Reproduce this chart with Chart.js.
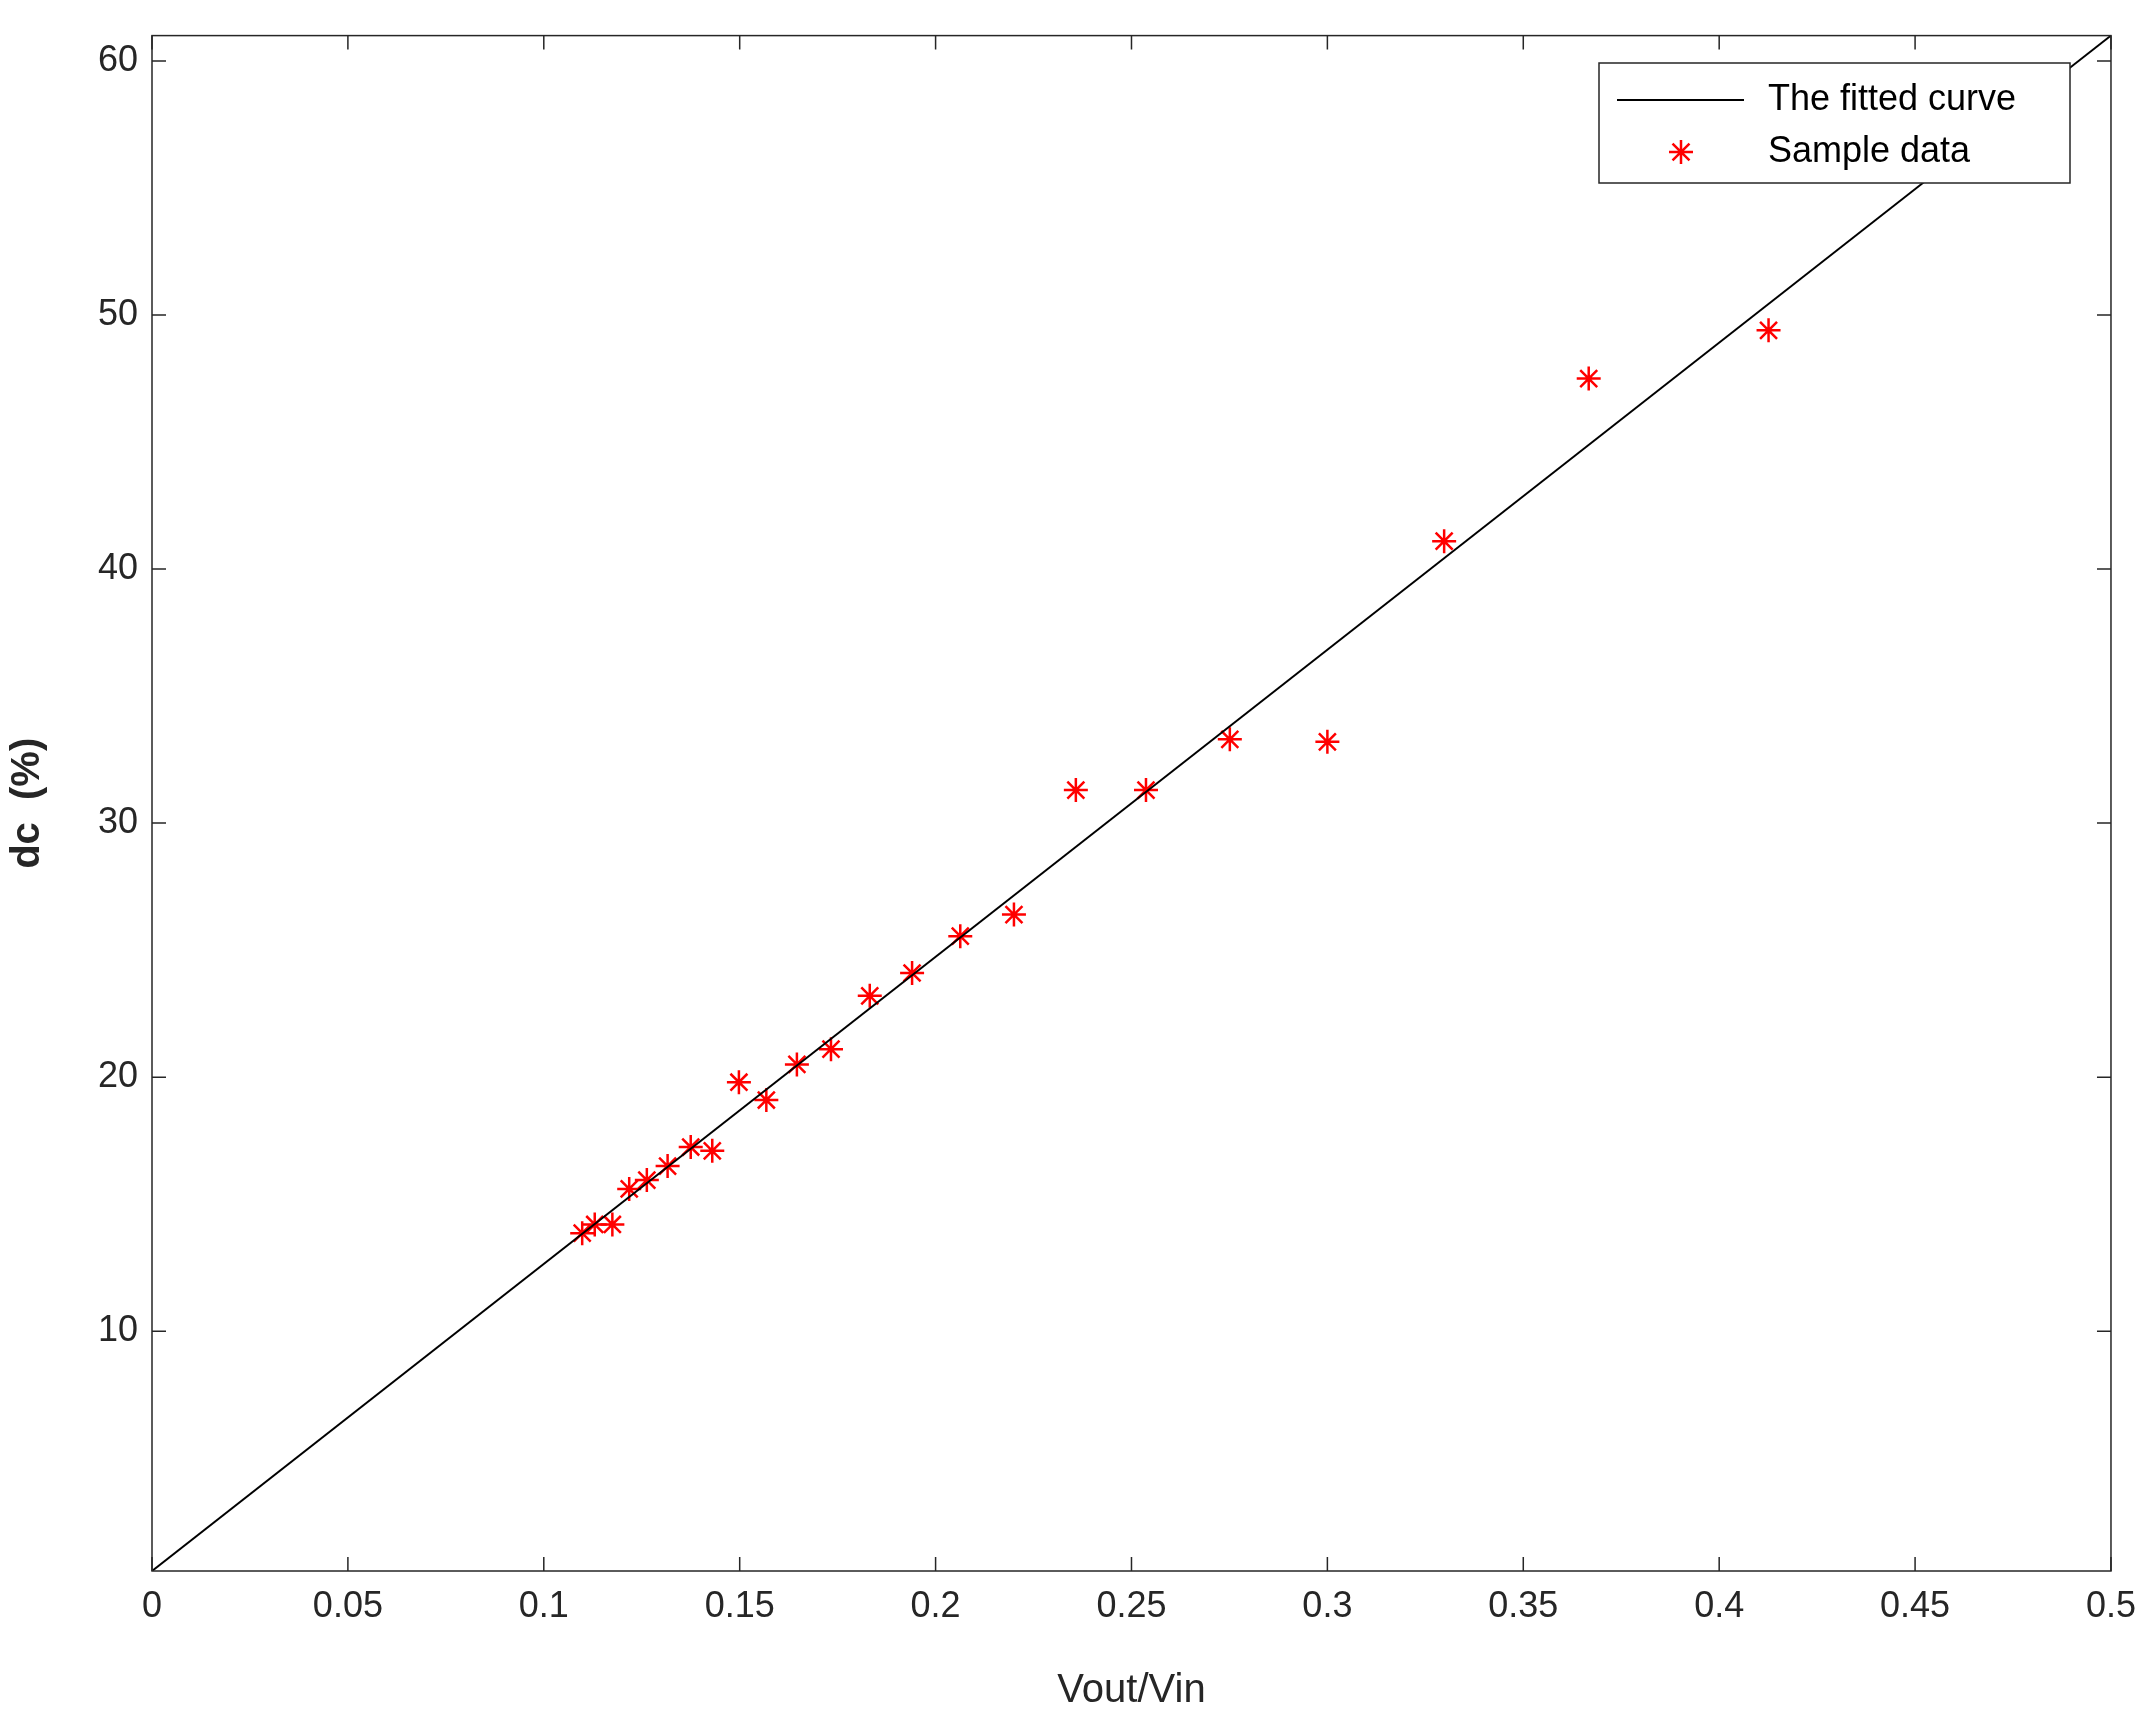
<!DOCTYPE html>
<html><head><meta charset="utf-8">
<script src="https://cdn.jsdelivr.net/npm/chart.js@4/dist/chart.umd.min.js"></script>
<style>html,body{margin:0;padding:0;background:#fff}#w{width:2150px;height:1719px}</style>
</head><body><div id="w"><canvas id="c"></canvas></div>
<script>
const sampleX=[0.1098,0.113,0.1175,0.1218,0.1263,0.1316,0.1375,0.143,0.1498,0.1568,0.1646,0.1733,0.1832,0.194,0.2063,0.22,0.2358,0.2537,0.2751,0.3,0.3298,0.3667,0.4126];
const sampleY=[13.86,14.2,14.2,15.6,15.95,16.5,17.25,17.1,19.8,19.1,20.5,21.1,23.2,24.1,25.55,26.4,31.3,31.3,33.3,33.2,41.1,47.5,49.4];
const fitX=[0,0.5];
const fitY=[0.56,61.0];
const xTicks=[0,0.05,0.1,0.15,0.2,0.25,0.3,0.35,0.4,0.45,0.5];
const yTicks=[10,20,30,40,50,60];
const FONT='"Liberation Sans", Arial, sans-serif';
const tickCol='#262626';

const frame={id:'frame',afterDraw(ch){
  const {ctx,chartArea:a,scales:{x,y}}=ch;
  ctx.save();ctx.strokeStyle=tickCol;ctx.lineWidth=1.5;
  ctx.strokeRect(a.left,a.top,a.right-a.left,a.bottom-a.top);
  const L=14;
  xTicks.forEach(v=>{const p=x.getPixelForValue(v);ctx.beginPath();ctx.moveTo(p,a.bottom);ctx.lineTo(p,a.bottom-L);ctx.moveTo(p,a.top);ctx.lineTo(p,a.top+L);ctx.stroke();});
  yTicks.forEach(v=>{const p=y.getPixelForValue(v);ctx.beginPath();ctx.moveTo(a.left,p);ctx.lineTo(a.left+L,p);ctx.moveTo(a.right,p);ctx.lineTo(a.right-L,p);ctx.stroke();});
  // legend
  const bx=1599,by=63,bw=471,bh=120;
  ctx.fillStyle='#fff';ctx.fillRect(bx,by,bw,bh);
  ctx.strokeStyle=tickCol;ctx.lineWidth=1.5;ctx.strokeRect(bx,by,bw,bh);
  ctx.strokeStyle='#000';ctx.lineWidth=2;
  ctx.beginPath();ctx.moveTo(bx+18,by+37);ctx.lineTo(bx+145,by+37);ctx.stroke();
  // asterisk
  const cx=bx+82,cy=by+89,r=12;ctx.strokeStyle='#ff0000';ctx.lineWidth=2.5;ctx.beginPath();
  for(let k=0;k<4;k++){const an=k*Math.PI/4;ctx.moveTo(cx-r*Math.cos(an),cy-r*Math.sin(an));ctx.lineTo(cx+r*Math.cos(an),cy+r*Math.sin(an));}
  ctx.stroke();
  ctx.fillStyle='#000';ctx.font='36px '+FONT;ctx.textBaseline='middle';
  ctx.fillText('The fitted curve',bx+169,by+37);
  ctx.fillText('Sample data',bx+169,by+89);
  ctx.restore();
}};

new Chart(document.getElementById('c'),{
  type:'scatter',
  data:{datasets:[
    {label:'The fitted curve',data:fitX.map((v,i)=>({x:v,y:fitY[i]})),showLine:true,borderColor:'#000',borderWidth:2,pointRadius:0},
    {label:'Sample data',data:sampleX.map((v,i)=>({x:v,y:sampleY[i]})),pointStyle:'star',radius:12,pointRadius:12,borderColor:'#ff0000',backgroundColor:'#ff0000',pointBorderWidth:2.5,borderWidth:2.5}
  ]},
  options:{responsive:true,maintainAspectRatio:false,animation:false,
    layout:{padding:{top:19,right:35,left:0,bottom:0}},
    plugins:{legend:{display:false},tooltip:{enabled:false}},
    scales:{
      x:{type:'linear',min:0,max:0.5,
        afterBuildTicks:s=>{s.ticks=xTicks.map(v=>({value:v}));},
        afterFit:s=>{s.height=148;},
        grid:{display:false,drawTicks:false},border:{display:false},
        ticks:{color:tickCol,font:{family:FONT,size:36},padding:14,maxRotation:0,callback:v=>String(v)},
        title:{display:true,text:'Vout/Vin',color:tickCol,font:{family:FONT,size:40},padding:{top:4}}},
      y:{type:'linear',min:0.56,max:61,
        afterBuildTicks:s=>{s.ticks=yTicks.map(v=>({value:v}));},
        afterFit:s=>{s.width=152;},
        grid:{display:false,drawTicks:false},border:{display:false},
        ticks:{color:tickCol,font:{family:FONT,size:36},padding:14},
        title:{display:true,text:'dc  (%)',color:tickCol,font:{family:FONT,size:40,weight:'bold'},padding:{bottom:6}}}
    }},
  plugins:[frame]
});
</script></body></html>
